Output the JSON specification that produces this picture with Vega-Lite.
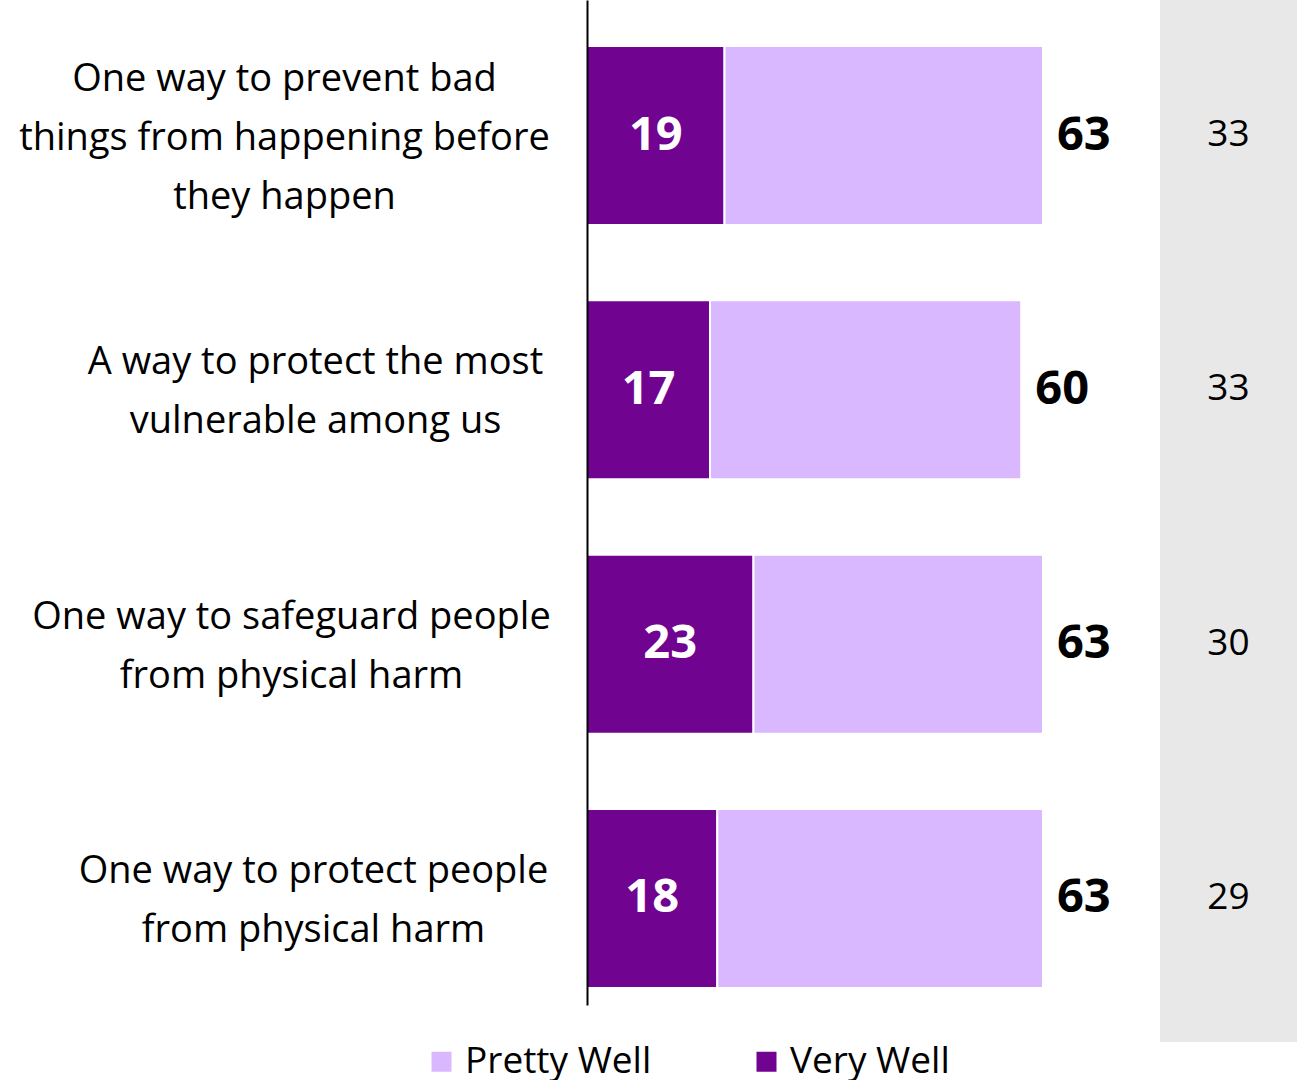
{
  "$schema": "https://vega.github.io/schema/vega-lite/v6.json",
  "autosize": {"type": "pad"},
  "padding": {"left": 18, "top": 0, "right": 0, "bottom": 0},
  "bounds": "flush",
  "spacing": 0,
  "background": "white",
  "config": {"view": {"stroke": null}, "font": "Open Sans"},
  "datasets": {
    "bars": [
      {"q": "One way to prevent bad things from happening before they happen", "segment": "Very Well", "value": 19},
      {"q": "One way to prevent bad things from happening before they happen", "segment": "Pretty Well", "value": 44},
      {"q": "A way to protect the most vulnerable among us", "segment": "Very Well", "value": 17},
      {"q": "A way to protect the most vulnerable among us", "segment": "Pretty Well", "value": 43},
      {"q": "One way to safeguard people from physical harm", "segment": "Very Well", "value": 23},
      {"q": "One way to safeguard people from physical harm", "segment": "Pretty Well", "value": 40},
      {"q": "One way to protect people from physical harm", "segment": "Very Well", "value": 18},
      {"q": "One way to protect people from physical harm", "segment": "Pretty Well", "value": 45}
    ],
    "totals": [
      {"q": "One way to prevent bad things from happening before they happen", "total": 63, "side": 33},
      {"q": "A way to protect the most vulnerable among us", "total": 60, "side": 33},
      {"q": "One way to safeguard people from physical harm", "total": 63, "side": 30},
      {"q": "One way to protect people from physical harm", "total": 63, "side": 29}
    ]
  },
  "hconcat": [
    {
      "width": 573,
      "height": 1005,
      "layer": [
        {
          "layer": [
            {
              "data": {"name": "bars"},
              "mark": {"type": "bar", "stroke": "white", "strokeWidth": 2},
              "encoding": {
                "y": {
                  "field": "q", "type": "nominal", "sort": null,
                  "scale": {"paddingInner": 0.296, "paddingOuter": 0.124, "align": 0.73},
                  "axis": {
                    "title": null, "ticks": false, "domain": true, "domainColor": "black", "domainWidth": 2,
                    "zindex": 1, "labelAlign": "center", "labelBaseline": "middle",
                    "labelPadding": {
                      "condition": [
                        {"test": "datum.value == 'One way to prevent bad things from happening before they happen'", "value": 303},
                        {"test": "datum.value == 'One way to safeguard people from physical harm'", "value": 296},
                        {"test": "datum.value == 'One way to protect people from physical harm'", "value": 274}
                      ],
                      "value": 272
                    },
                    "labelOffset": {
                      "condition": {"test": "datum.value == 'One way to prevent bad things from happening before they happen'", "value": -56},
                      "value": -26.5
                    },
                    "labelFont": "Open Sans", "labelFontSize": 38, "labelColor": "black", "labelLimit": 0, "labelLineHeight": 59,
                    "labelExpr": "datum.value == 'One way to prevent bad things from happening before they happen' ? ['One way to prevent bad', 'things from happening before', 'they happen'] : datum.value == 'A way to protect the most vulnerable among us' ? ['A way to protect the most', 'vulnerable among us'] : datum.value == 'One way to safeguard people from physical harm' ? ['One way to safeguard people', 'from physical harm'] : ['One way to protect people', 'from physical harm']"
                  }
                },
                "x": {"field": "value", "type": "quantitative", "stack": "zero", "scale": {"domain": [0, 79.17], "nice": false}, "axis": null},
                "color": {
                  "field": "segment", "type": "nominal",
                  "scale": {"domain": ["Pretty Well", "Very Well"], "range": ["#D9B8FF", "#70038F"]},
                  "legend": {
                    "title": null, "orient": "none", "legendX": -164, "legendY": 1043, "direction": "horizontal",
                    "symbolType": "square", "symbolSize": 400, "symbolStrokeWidth": 0, "symbolOpacity": 1,
                    "labelFont": "Open Sans", "labelFontSize": 37, "labelColor": "black", "labelOffset": 5,
                    "columnPadding": 96, "labelLimit": 0
                  }
                },
                "order": {"field": "segment", "sort": "descending"}
              }
            },
            {
              "data": {"name": "totals"},
              "mark": {"type": "text", "color": "black", "fontWeight": "bold", "fontSize": 47, "font": "Open Sans", "align": "left", "baseline": "middle", "dx": 14},
              "encoding": {
                "y": {"field": "q", "type": "nominal", "sort": null},
                "x": {"field": "total", "type": "quantitative", "axis": null},
                "text": {"field": "total", "type": "quantitative"}
              }
            }
          ]
        },
        {
          "data": {"name": "bars"},
          "transform": [{"filter": "datum.segment == 'Very Well'"}],
          "mark": {"type": "text", "color": "white", "fontWeight": "bold", "fontSize": 47, "font": "Open Sans", "align": "center", "baseline": "middle"},
          "encoding": {
            "y": {"field": "q", "type": "nominal", "sort": null},
            "x": {"field": "value", "type": "quantitative", "scale": {"domain": [0, 158.34], "nice": false}, "axis": null},
            "text": {"field": "value", "type": "quantitative"}
          }
        }
      ],
      "resolve": {"scale": {"x": "independent"}}
    },
    {
      "width": 137,
      "height": 1042,
      "view": {"fill": "#E8E8E8", "stroke": null},
      "data": {"name": "totals"},
      "mark": {"type": "text", "color": "black", "fontSize": 37, "font": "Open Sans", "align": "center", "baseline": "middle"},
      "encoding": {
        "y": {"field": "q", "type": "nominal", "sort": null, "scale": {"type": "point", "padding": 0.5486, "align": 0.484}, "axis": null},
        "x": {"datum": 0.5, "type": "quantitative", "scale": {"domain": [0, 1]}, "axis": null},
        "text": {"field": "side", "type": "quantitative"}
      }
    }
  ]
}
